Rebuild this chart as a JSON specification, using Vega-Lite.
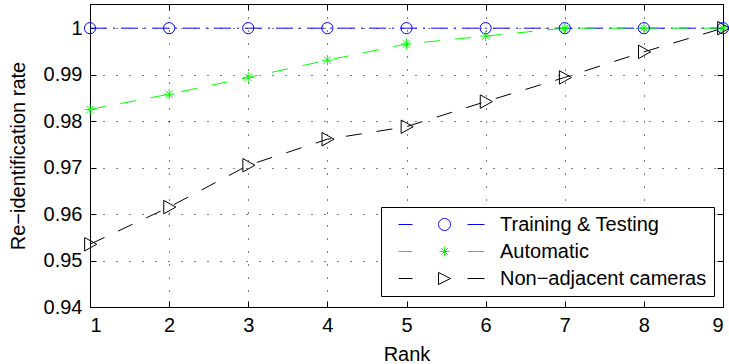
{
  "$schema": "https://vega.github.io/schema/vega-lite/v6.json",
  "width": 633,
  "height": 303,
  "autosize": {"type": "none"},
  "padding": {"left": 90, "top": 4, "right": 6, "bottom": 57},
  "background": "white",
  "config": {
    "font": "Liberation Sans",
    "view": {"stroke": "black", "strokeWidth": 1},
    "axis": {
      "labelFont": "Liberation Sans", "labelFontSize": 20, "labelColor": "black",
      "titleFont": "Liberation Sans", "titleFontSize": 20, "titleFontWeight": "normal", "titleColor": "black",
      "domainColor": "black", "domainWidth": 1, "tickColor": "black", "tickWidth": 1, "tickSize": -6,
      "gridColor": "black", "gridDash": [1, 12], "gridOpacity": 1, "gridWidth": 1
    },
    "legend": {
      "title": null, "orient": "none", "legendX": 291, "legendY": 203, "fillColor": "white", "strokeColor": "black",
      "padding": 7, "rowPadding": 6, "symbolSize": 400, "symbolStrokeWidth": 1, "symbolOffset": 43, "labelOffset": 48,
      "labelFontSize": 20, "labelFont": "Liberation Sans", "labelColor": "black", "labelLimit": 400, "symbolOpacity": 1
    }
  },
  "data": {"values": [
    {"series": "Training & Testing", "rank": 1, "rate": 1},
    {"series": "Training & Testing", "rank": 2, "rate": 1},
    {"series": "Training & Testing", "rank": 3, "rate": 1},
    {"series": "Training & Testing", "rank": 4, "rate": 1},
    {"series": "Training & Testing", "rank": 5, "rate": 1},
    {"series": "Training & Testing", "rank": 6, "rate": 1},
    {"series": "Training & Testing", "rank": 7, "rate": 1},
    {"series": "Training & Testing", "rank": 8, "rate": 1},
    {"series": "Training & Testing", "rank": 9, "rate": 1},
    {"series": "Automatic", "rank": 1, "rate": 0.9825},
    {"series": "Automatic", "rank": 2, "rate": 0.9858},
    {"series": "Automatic", "rank": 3, "rate": 0.9894},
    {"series": "Automatic", "rank": 4, "rate": 0.9931},
    {"series": "Automatic", "rank": 5, "rate": 0.9966},
    {"series": "Automatic", "rank": 6, "rate": 0.9983},
    {"series": "Automatic", "rank": 7, "rate": 1},
    {"series": "Automatic", "rank": 8, "rate": 1},
    {"series": "Automatic", "rank": 9, "rate": 1},
    {"series": "Non−adjacent cameras", "rank": 1, "rate": 0.9535},
    {"series": "Non−adjacent cameras", "rank": 2, "rate": 0.9615},
    {"series": "Non−adjacent cameras", "rank": 3, "rate": 0.9705},
    {"series": "Non−adjacent cameras", "rank": 4, "rate": 0.9761},
    {"series": "Non−adjacent cameras", "rank": 5, "rate": 0.9788},
    {"series": "Non−adjacent cameras", "rank": 6, "rate": 0.9842},
    {"series": "Non−adjacent cameras", "rank": 7, "rate": 0.9894},
    {"series": "Non−adjacent cameras", "rank": 8, "rate": 0.9949},
    {"series": "Non−adjacent cameras", "rank": 9, "rate": 1}
  ]},
  "layer": [
    {
      "transform": [{"filter": "datum.series === 'Training & Testing'"}],
      "mark": {"type": "line", "strokeWidth": 1, "clip": false, "color": "#0000ff", "strokeDash": [17, 6, 2, 6]},
      "encoding": {
        "x": {"field": "rank", "type": "quantitative", "scale": {"domain": [1, 9], "nice": false},
          "axis": {"title": "Rank", "values": [1, 2, 3, 4, 5, 6, 7, 8, 9], "format": "d", "grid": true, "labelPadding": 14, "titlePadding": 9}},
        "y": {"field": "rate", "type": "quantitative", "scale": {"domain": [0.94, 1.0052], "nice": false, "zero": false},
          "axis": {"title": "Re−identification rate", "values": [0.94, 0.95, 0.96, 0.97, 0.98, 0.99, 1], "format": ".2~f", "grid": true, "labelPadding": 14, "titlePadding": 15}}
      }
    },
    {
      "transform": [{"filter": "datum.series === 'Automatic'"}],
      "mark": {"type": "line", "strokeWidth": 1, "clip": false, "color": "#00ff00", "strokeDash": [16, 15]},
      "encoding": {
        "x": {"field": "rank", "type": "quantitative", "axis": null},
        "y": {"field": "rate", "type": "quantitative", "axis": null}
      }
    },
    {
      "transform": [{"filter": "datum.series === 'Non−adjacent cameras'"}],
      "mark": {"type": "line", "strokeWidth": 1, "clip": false, "color": "#000000", "strokeDash": [16, 15]},
      "encoding": {
        "x": {"field": "rank", "type": "quantitative", "axis": null},
        "y": {"field": "rate", "type": "quantitative", "axis": null}
      }
    },
    {
      "transform": [{"filter": "datum.series === 'Training & Testing'"}],
      "mark": {"type": "point", "shape": "circle", "filled": false, "color": "#0000ff", "size": 125, "strokeWidth": 1, "opacity": 1},
      "encoding": {
        "x": {"field": "rank", "type": "quantitative",
          "axis": {"orient": "top", "labels": false, "grid": false, "title": null, "values": [1, 2, 3, 4, 5, 6, 7, 8, 9]}},
        "y": {"field": "rate", "type": "quantitative",
          "axis": {"orient": "right", "labels": false, "grid": false, "title": null, "values": [0.94, 0.95, 0.96, 0.97, 0.98, 0.99, 1]}}
      }
    },
    {
      "transform": [{"filter": "datum.series === 'Automatic'"}],
      "mark": {"type": "point", "shape": "M0,-1V1M-1,0H1M-0.7,-0.7L0.7,0.7M-0.7,0.7L0.7,-0.7", "filled": false, "color": "#00ff00", "size": 110, "strokeWidth": 1, "opacity": 1},
      "encoding": {
        "x": {"field": "rank", "type": "quantitative", "axis": null},
        "y": {"field": "rate", "type": "quantitative", "axis": null}
      }
    },
    {
      "transform": [{"filter": "datum.series === 'Non−adjacent cameras'"}],
      "mark": {"type": "point", "shape": "M-0.8,-1L1,0L-0.8,1Z", "filled": false, "color": "#000000", "size": 180, "strokeWidth": 1, "opacity": 1},
      "encoding": {
        "x": {"field": "rank", "type": "quantitative", "axis": null},
        "y": {"field": "rate", "type": "quantitative", "axis": null}
      }
    },
    {
      "mark": {"type": "point", "filled": false, "opacity": 0},
      "encoding": {
        "x": {"field": "rank", "type": "quantitative", "axis": null},
        "y": {"field": "rate", "type": "quantitative", "axis": null},
        "color": {"field": "series", "type": "nominal",
          "scale": {"domain": ["Training & Testing", "Automatic", "Non−adjacent cameras"], "range": ["#0000ff", "#00ff00", "#000000"]}},
        "shape": {"field": "series", "type": "nominal",
          "scale": {"domain": ["Training & Testing", "Automatic", "Non−adjacent cameras"],
            "range": [
              "M-4.3,0H-2.9M2.6,0H4.3M-0.3,0A0.6,0.6,0,1,0,0.9,0A0.6,0.6,0,1,0,-0.3,0Z",
              "M-4.3,0H-2.9M2.6,0H4.3M0.3,-0.5V0.5M-0.2,0H0.8M-0.05,-0.35L0.65,0.35M-0.05,0.35L0.65,-0.35",
              "M-4.3,0H-2.9M2.6,0H4.3M-0.3,-0.6L0.9,0L-0.3,0.6Z"
            ]}}
      }
    }
  ],
  "resolve": {"axis": {"x": "independent", "y": "independent"}}
}
